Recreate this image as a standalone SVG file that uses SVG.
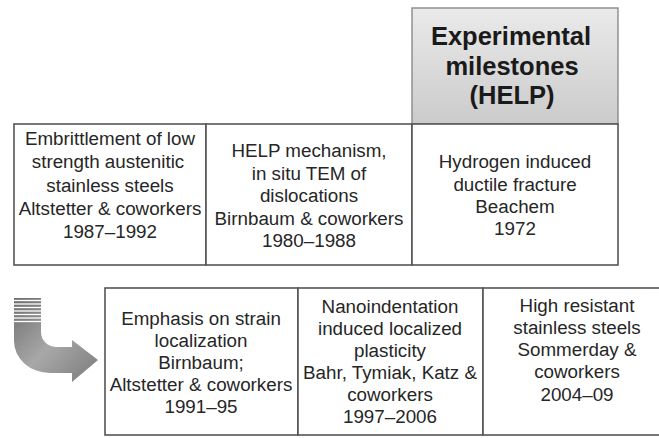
<svg xmlns="http://www.w3.org/2000/svg" width="659" height="438" viewBox="0 0 659 438">
<defs>
<linearGradient id="hdr" x1="0" y1="0" x2="0" y2="1">
<stop offset="0" stop-color="#eaeaea"/>
<stop offset="1" stop-color="#cbcbcb"/>
</linearGradient>
<linearGradient id="arr" x1="0" y1="0" x2="1" y2="1">
<stop offset="0" stop-color="#6e6e6e"/>
<stop offset="0.5" stop-color="#a8a8a8"/>
<stop offset="1" stop-color="#7a7a7a"/>
</linearGradient>
<style>
.box{fill:#fff;stroke:#555;stroke-width:1.6}
.hbox{fill:url(#hdr);stroke:#8a8a8a;stroke-width:1.4}
.t{font-family:"Liberation Sans",Arial,sans-serif;font-size:18.8px;fill:#262626;text-anchor:middle}
.h{font-family:"Liberation Sans",Arial,sans-serif;font-size:25.5px;font-weight:bold;fill:#1a1a1a;text-anchor:middle}
</style>
</defs>
<rect width="659" height="438" fill="#fff"/>

<g id="header">
<rect class="hbox" x="412" y="8" width="206" height="116"/>
<text class="h" x="511" y="45">Experimental</text>
<text class="h" x="512" y="75">milestones</text>
<text class="h" x="512" y="104">(HELP)</text>
</g>

<g id="node-embrittlement">
<rect class="box" x="14" y="124" width="192" height="141"/>
<text class="t" x="110" y="145">Embrittlement of low</text>
<text class="t" x="108" y="168">strength austenitic</text>
<text class="t" x="110" y="192">stainless steels</text>
<text class="t" x="110" y="215">Altstetter &amp; coworkers</text>
<text class="t" x="110" y="238">1987–1992</text>
</g>

<g id="node-help">
<rect class="box" x="206" y="124" width="206" height="141"/>
<text class="t" x="309" y="157">HELP mechanism,</text>
<text class="t" x="309" y="180">in situ TEM of</text>
<text class="t" x="309" y="202">dislocations</text>
<text class="t" x="309" y="225">Birnbaum &amp; coworkers</text>
<text class="t" x="309" y="247">1980–1988</text>
</g>

<g id="node-hydrogen">
<rect class="box" x="412" y="124" width="206" height="141"/>
<text class="t" x="515" y="168">Hydrogen induced</text>
<text class="t" x="515" y="191">ductile fracture</text>
<text class="t" x="515" y="213">Beachem</text>
<text class="t" x="515" y="235">1972</text>
</g>

<g id="node-emphasis">
<rect class="box" x="105" y="288" width="193" height="147"/>
<text class="t" x="201" y="325">Emphasis on strain</text>
<text class="t" x="201" y="347">localization</text>
<text class="t" x="201" y="369">Birnbaum;</text>
<text class="t" x="201" y="391">Altstetter &amp; coworkers</text>
<text class="t" x="201" y="413">1991–95</text>
</g>

<g id="node-nano">
<rect class="box" x="298" y="288" width="185" height="147"/>
<text class="t" x="390" y="313">Nanoindentation</text>
<text class="t" x="390" y="335">induced localized</text>
<text class="t" x="390" y="357">plasticity</text>
<text class="t" x="390" y="379">Bahr, Tymiak, Katz &amp;</text>
<text class="t" x="390" y="401">coworkers</text>
<text class="t" x="390" y="423">1997–2006</text>
</g>

<g id="node-stainless">
<rect class="box" x="483" y="288" width="190" height="147"/>
<text class="t" x="577" y="312">High resistant</text>
<text class="t" x="577" y="334">stainless steels</text>
<text class="t" x="577" y="356">Sommerday &amp;</text>
<text class="t" x="577" y="378">coworkers</text>
<text class="t" x="577" y="401">2004–09</text>
</g>

<g id="connectors">
<path d="M14 298 H41 V332 A15 15 0 0 0 56 347 H72 V340 L98 360 L72 382 V373 H50 A36 32 0 0 1 14 341 Z" fill="url(#arr)"/>
<g stroke="#fff" stroke-width="1.3">
<line x1="13" y1="300.5" x2="42" y2="300.5"/>
<line x1="13" y1="304" x2="42" y2="304"/>
<line x1="13" y1="307.5" x2="42" y2="307.5"/>
<line x1="13" y1="311" x2="42" y2="311"/>
<line x1="13" y1="314.5" x2="42" y2="314.5"/>
<line x1="13" y1="318" x2="42" y2="318"/>
<line x1="13" y1="321.5" x2="42" y2="321.5"/>
</g>
</g>
</svg>
